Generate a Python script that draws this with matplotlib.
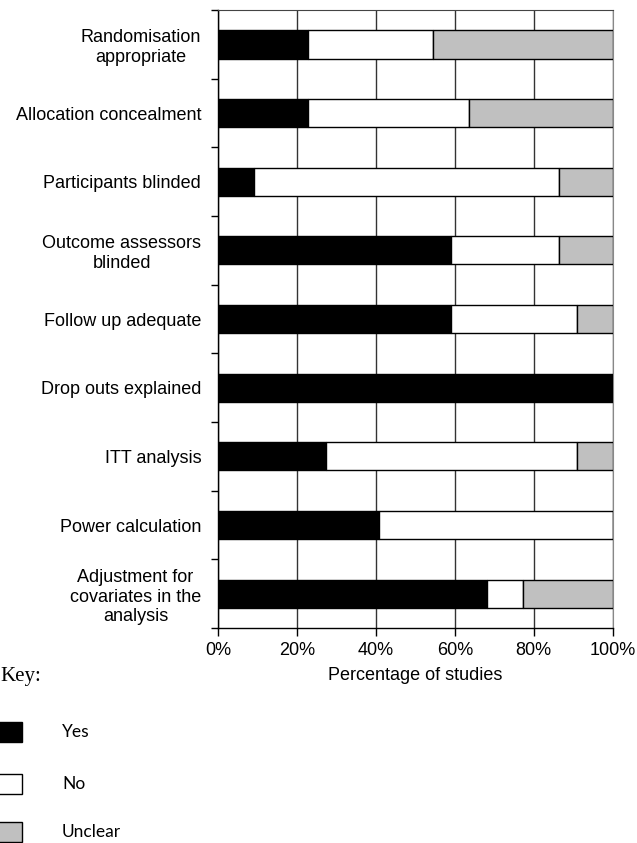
import numpy as np
from matplotlib import pyplot as plt
from matplotlib.patches import Rectangle

# percentage of studies per criterion (top to bottom)
categories = [
    "Randomisation\nappropriate",
    "Allocation concealment",
    "Participants blinded",
    "Outcome assessors\nblinded",
    "Follow up adequate",
    "Drop outs explained",
    "ITT analysis",
    "Power calculation",
    "Adjustment for\ncovariates in the\nanalysis",
]
yes = [22.7, 22.7, 9.1, 59.1, 59.1, 100.0, 27.3, 40.9, 68.2]
no = [31.8, 40.9, 77.3, 27.3, 31.8, 0.0, 63.6, 59.1, 9.1]
unclear = [45.5, 36.4, 13.6, 13.6, 9.1, 0.0, 9.1, 0.0, 22.7]

xticks = [0, 20, 40, 60, 80, 100]
key_labels = ["Yes", "No", "Unclear"]
key_colors = ["black", "white", "#c0c0c0"]

plt.rcParams['font.family'] = ['Liberation Sans', 'DejaVu Sans']

fig = plt.figure(figsize=(6.37, 8.43), dpi=100)
ax = fig.add_axes([0.342, 0.255, 0.620, 0.733])

y = np.arange(len(categories))
yes = np.array(yes)
no = np.array(no)
unclear = np.array(unclear)
h = 0.41
ax.barh(y, yes, height=h, color=key_colors[0], edgecolor="black", linewidth=1, zorder=3)
ax.barh(y, no, left=yes, height=h, color=key_colors[1], edgecolor="black", linewidth=1, zorder=3)
ax.barh(y, unclear, left=yes + no, height=h, color=key_colors[2], edgecolor="black", linewidth=1, zorder=3)

ax.set_xlim(0, 100)
ax.set_ylim(len(categories) - 0.5, -0.5)

ax.set_xticks(xticks)
ax.set_xticklabels([f"{t}%" for t in xticks], fontsize=13)
ax.tick_params(axis='x', direction='out', length=6, width=1, pad=4)
ax.set_xlabel("Percentage of studies", fontsize=13, labelpad=6)

ax.set_yticks(y)
ax.set_yticklabels(categories, fontsize=13, multialignment='center')
ax.tick_params(axis='y', which='major', length=0, pad=12)
ax.set_yticks(np.arange(-0.5, len(categories) + 0.5, 1.0), minor=True)
ax.tick_params(axis='y', which='minor', direction='out', length=5, width=1)

ax.grid(axis='x', color='#333333', linewidth=1, zorder=0)
for side in ['left', 'bottom']:
    ax.spines[side].set_color('black')
    ax.spines[side].set_linewidth(1)
ax.spines['right'].set_color('#888888')
ax.spines['top'].set_color('#444444')

# key
fig.text(0.0, 1 - 676 / 843, "Key:", family='Liberation Serif', fontsize=15,
         va='center', ha='left')
key_y = [732, 784, 832]
for lab, col, yy in zip(key_labels, key_colors, key_y):
    fig.add_artist(Rectangle((-0.01, 1 - (yy + 10) / 843), 0.045, 20 / 843,
                             transform=fig.transFigure, facecolor=col,
                             edgecolor='black', linewidth=1))
    fig.text(62 / 637, 1 - yy / 843, lab, family=['Lato', 'DejaVu Sans'],
             fontsize=12.5, va='center', ha='left')

fig.savefig("out.png", dpi=100)
